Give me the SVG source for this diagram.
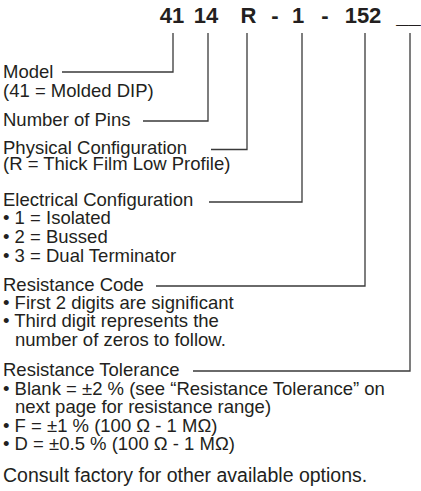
<svg xmlns="http://www.w3.org/2000/svg" width="421" height="491" viewBox="0 0 421 491">
<style>
  .t { font-family: "Liberation Sans", Arial, sans-serif; font-size: 18.5px; fill: #231f20; }
  .h { font-family: "Liberation Sans", Arial, sans-serif; font-size: 22px; font-weight: bold; fill: #231f20; text-anchor: middle; }
  .c { fill: none; stroke: #3a3a3a; stroke-width: 1.3; }
</style>
<rect width="421" height="491" fill="#ffffff"/>
<g id="header">
  <text class="h" x="172" y="23">41</text>
  <text class="h" x="206" y="23">14</text>
  <text class="h" x="248.5" y="23">R</text>
  <text class="h" x="275" y="23">-</text>
  <text class="h" x="298" y="23">1</text>
  <text class="h" x="325" y="23">-</text>
  <text class="h" x="363" y="23">152</text>
  <text class="h" x="408.5" y="23">__</text>
</g>
<g id="connectors">
  <polyline class="c" points="173,33 173,72 62,72"/>
  <polyline class="c" points="208,33 208,121 143,121"/>
  <polyline class="c" points="247,33 247,149.5 211,149.5"/>
  <polyline class="c" points="302,33 302,202 209,202"/>
  <polyline class="c" points="365,33 365,286 156,286"/>
  <polyline class="c" points="410,33 410,371 193,371"/>
</g>
<g id="model">
  <text class="t" x="3" y="78">Model</text>
  <text class="t" x="3" y="97">(41 = Molded DIP)</text>
</g>
<g id="pins">
  <text class="t" x="3" y="126">Number of Pins</text>
</g>
<g id="physical">
  <text class="t" x="3" y="154">Physical Configuration</text>
  <text class="t" x="3" y="170">(R = Thick Film Low Profile)</text>
</g>
<g id="electrical">
  <text class="t" x="3" y="206">Electrical Configuration</text>
  <text class="t" x="3" y="224">• 1 = Isolated</text>
  <text class="t" x="3" y="243">• 2 = Bussed</text>
  <text class="t" x="3" y="262">• 3 = Dual Terminator</text>
</g>
<g id="resistance-code">
  <text class="t" x="3" y="291">Resistance Code</text>
  <text class="t" x="3" y="309">• First 2 digits are significant</text>
  <text class="t" x="3" y="327">• Third digit represents the</text>
  <text class="t" x="15" y="346">number of zeros to follow.</text>
</g>
<g id="tolerance">
  <text class="t" x="3" y="376">Resistance Tolerance</text>
  <text class="t" x="3" y="395">• Blank = ±2 % (see “Resistance Tolerance” on</text>
  <text class="t" x="15" y="413">next page for resistance range)</text>
  <text class="t" x="3" y="432">• F = ±1 % (100 Ω - 1 MΩ)</text>
  <text class="t" x="3" y="450">• D = ±0.5 % (100 Ω - 1 MΩ)</text>
</g>
<g id="note">
  <text class="t" x="3" y="482" style="font-size:19.5px">Consult factory for other available options.</text>
</g>
</svg>
